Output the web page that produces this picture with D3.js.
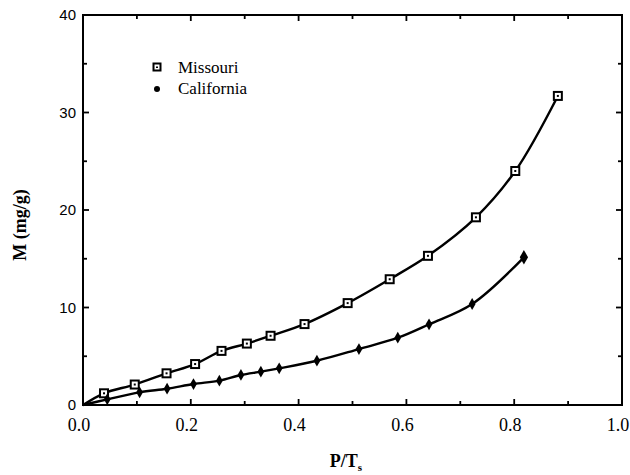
<!DOCTYPE html>
<html>
<head>
<meta charset="utf-8">
<script src="https://cdn.jsdelivr.net/npm/d3@7"></script>
<style>
  body { margin: 0; background: #fff; }
  svg { display: block; }
</style>
</head>
<body>
<svg id="svg_id"></svg>
<script>
// data
var missouriX = [0.039, 0.096, 0.155, 0.208, 0.257, 0.304, 0.348, 0.411, 0.491, 0.569, 0.640, 0.729, 0.802, 0.881];
var missouriY = [1.2, 2.1, 3.25, 4.2, 5.55, 6.3, 7.1, 8.3, 10.45, 12.9, 15.3, 19.25, 24.0, 31.7];
var californiaX = [0.045, 0.105, 0.156, 0.205, 0.253, 0.293, 0.330, 0.364, 0.434, 0.512, 0.584, 0.642, 0.722, 0.818];
var californiaY = [0.58, 1.3, 1.67, 2.15, 2.5, 3.08, 3.42, 3.76, 4.54, 5.74, 6.9, 8.28, 10.36, 15.15];
var xTickLabels = ["0.0", "0.2", "0.4", "0.6", "0.8", "1.0"];
var yTickLabels = ["0", "10", "20", "30", "40"];
var seriesNames = ["Missouri", "California"];

function isothermChart()
{
  var margin = { top: 15, right: 8, bottom: 70, left: 83 };
  var width = 630 - margin.left - margin.right,
      height = 475 - margin.top - margin.bottom;

  var svg = d3.select("#svg_id")
    .attr("width", 630)
    .attr("height", 475);

  var g = svg.append("g")
    .attr("transform", "translate(" + margin.left + "," + margin.top + ")");

  var x = d3.scaleLinear().domain([0, 1]).range([0, width]);
  var y = d3.scaleLinear().domain([0, 40]).range([height, 0]);

  var serif = "Liberation Serif, DejaVu Serif, serif";
  var sans = "Liberation Sans, Arial, sans-serif";

  // frame
  g.append("rect")
    .attr("x", 0).attr("y", 0)
    .attr("width", width).attr("height", height)
    .attr("fill", "none")
    .attr("stroke", "#000")
    .attr("stroke-width", 2);

  // ticks, pointing inward on all four sides
  var xMajor = xTickLabels.map(Number);
  var xMinor = d3.range(0.1, 1, 0.2);
  var yMajor = yTickLabels.map(Number);
  var yMinor = d3.range(5, 40, 10);

  function tickX(vals, len)
  {
    vals.forEach(function(v)
    {
      g.append("line").attr("x1", x(v)).attr("x2", x(v))
        .attr("y1", height).attr("y2", height - len)
        .attr("stroke", "#000").attr("stroke-width", 1.8);
      g.append("line").attr("x1", x(v)).attr("x2", x(v))
        .attr("y1", 0).attr("y2", len)
        .attr("stroke", "#000").attr("stroke-width", 1.8);
    });
  }
  function tickY(vals, len)
  {
    vals.forEach(function(v)
    {
      g.append("line").attr("x1", 0).attr("x2", len)
        .attr("y1", y(v)).attr("y2", y(v))
        .attr("stroke", "#000").attr("stroke-width", 1.8);
      g.append("line").attr("x1", width).attr("x2", width - len)
        .attr("y1", y(v)).attr("y2", y(v))
        .attr("stroke", "#000").attr("stroke-width", 1.8);
    });
  }
  tickX(xMajor, 6);
  tickX(xMinor, 4);
  tickY(yMajor, 6);
  tickY(yMinor, 4);

  // tick labels
  g.selectAll(".xlab")
    .data(xTickLabels)
    .enter().append("text")
    .attr("x", function(d) { return x(+d) - 4; })
    .attr("y", height + 26)
    .attr("text-anchor", "middle")
    .attr("font-family", serif)
    .attr("font-size", 18)
    .text(function(d) { return d; });

  g.selectAll(".ylab")
    .data(yTickLabels)
    .enter().append("text")
    .attr("x", -7)
    .attr("y", function(d) { return y(+d) + 5; })
    .attr("text-anchor", "end")
    .attr("font-family", sans)
    .attr("font-size", 15)
    .text(function(d) { return d; });

  // axis titles
  var xt = svg.append("text")
    .attr("x", 346)
    .attr("y", 467)
    .attr("text-anchor", "middle")
    .attr("font-family", serif)
    .attr("font-size", 18)
    .attr("font-weight", "bold");
  xt.append("tspan").text("P/T");
  xt.append("tspan").attr("dy", 4).attr("font-size", 11).text("s");

  svg.append("text")
    .attr("transform", "translate(26,225) rotate(-90)")
    .attr("text-anchor", "middle")
    .attr("font-family", serif)
    .attr("font-size", 18)
    .attr("font-weight", "bold")
    .text("M (mg/g)");

  // curves
  var line = d3.line()
    .x(function(d) { return x(d[0]); })
    .y(function(d) { return y(d[1]); })
    .curve(d3.curveCatmullRom.alpha(0.5));

  var missouri = missouriX.map(function(v, i) { return [v, missouriY[i]]; });
  var california = californiaX.map(function(v, i) { return [v, californiaY[i]]; });

  g.append("path")
    .datum([[0, 0]].concat(missouri))
    .attr("d", line)
    .attr("fill", "none")
    .attr("stroke", "#000")
    .attr("stroke-width", 2.4);

  g.append("path")
    .datum([[0, 0]].concat(california))
    .attr("d", line)
    .attr("fill", "none")
    .attr("stroke", "#000")
    .attr("stroke-width", 2.4);

  // markers
  function square(sel)
  {
    sel.append("rect")
      .attr("x", -4).attr("y", -4)
      .attr("width", 8).attr("height", 8)
      .attr("fill", "#fff")
      .attr("stroke", "#000")
      .attr("stroke-width", 2);
    sel.append("rect")
      .attr("x", -1).attr("y", -1)
      .attr("width", 2).attr("height", 2)
      .attr("fill", "#000");
  }

  var sq = g.selectAll(".mo")
    .data(missouri)
    .enter().append("g")
    .attr("transform", function(d) { return "translate(" + x(d[0]) + "," + y(d[1]) + ")"; });
  square(sq);

  g.selectAll(".ca")
    .data(california)
    .enter().append("path")
    .attr("transform", function(d) { return "translate(" + x(d[0]) + "," + y(d[1]) + ")"; })
    .attr("d", function(d, i)
    {
      var s = (i === california.length - 1) ? 60 : 40;
      return d3.symbol().type(d3.symbolDiamond).size(s)();
    })
    .attr("fill", "#000");

  // legend
  var leg = svg.append("g");
  var lm = leg.append("g").attr("transform", "translate(157,67)");
  lm.append("rect")
    .attr("x", -3.5).attr("y", -3.5)
    .attr("width", 7).attr("height", 7)
    .attr("fill", "#fff")
    .attr("stroke", "#000")
    .attr("stroke-width", 2);
  lm.append("rect")
    .attr("x", -1).attr("y", -0.5)
    .attr("width", 2).attr("height", 1.5)
    .attr("fill", "#000");

  leg.append("circle")
    .attr("cx", 157).attr("cy", 89)
    .attr("r", 3)
    .attr("fill", "#000");

  leg.selectAll(".lt")
    .data(seriesNames)
    .enter().append("text")
    .attr("x", 178)
    .attr("y", function(d, i) { return 73 + i * 21; })
    .attr("font-family", serif)
    .attr("font-size", 17)
    .text(function(d) { return d; });
}

isothermChart();
</script>
</body>
</html>
